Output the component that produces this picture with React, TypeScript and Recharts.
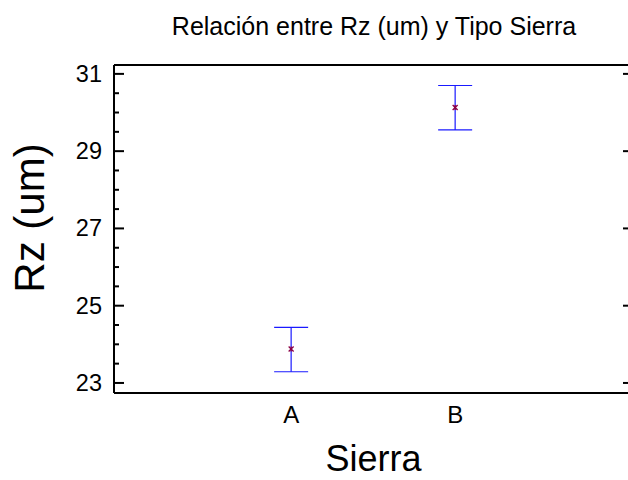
import {
  ComposedChart,
  Scatter,
  ErrorBar,
  XAxis,
  YAxis,
} from 'recharts'

// Rz (um) by saw type: means with lower / upper interval limits
const categories = ['A', 'B']
const catPos = [1, 2]
const means = [23.88, 30.13]
const lows = [23.29, 29.55]
const highs = [24.44, 30.7]

const yTicks = [23, 23.5, 24, 24.5, 25, 25.5, 26, 26.5, 27, 27.5, 28, 28.5, 29, 29.5, 30, 30.5, 31]
const yMajor = [23, 25, 27, 29, 31]
const yDomain = [22.74, 31.23]
const xDomain = [-0.08, 3.06]

const FONT = '"Liberation Sans", Arial, sans-serif'

const data = categories.map((c, i) => ({
  x: catPos[i],
  y: means[i],
  err: [means[i] - lows[i], highs[i] - means[i]],
}))

const LeftTick = (props: any) => {
  const { x, y, payload } = props
  const v = payload.value as number
  const major = yMajor.includes(v)
  return (
    <g>
      <line x1={x + 12} x2={x + 12 + (major ? 10 : 5)} y1={y} y2={y} stroke="#000" strokeWidth={2} />
      {major && (
        <text x={x} y={y} dy={8} textAnchor="end" fontSize={23.5} fontFamily={FONT} fill="#000">
          {v}
        </text>
      )}
    </g>
  )
}

const RightTick = (props: any) => {
  const { x, y } = props
  return <line x1={x - 6} x2={x} y1={y} y2={y} stroke="#000" strokeWidth={2} />
}

const BottomTick = (props: any) => {
  const { x, y, payload } = props
  const idx = catPos.indexOf(payload.value)
  return (
    <text x={x} y={y} dy={30} textAnchor="middle" fontSize={24} fontFamily={FONT} fill="#000">
      {categories[idx]}
    </text>
  )
}

const StarMark = (props: any) => {
  const { cx, cy } = props
  const r = 2.5
  return (
    <g stroke="#8b0045" strokeWidth={1.3}>
      <line x1={cx - r} x2={cx + r} y1={cy - r} y2={cy + r} />
      <line x1={cx - r} x2={cx + r} y1={cy + r} y2={cy - r} />
      <line x1={cx} x2={cx} y1={cy - r} y2={cy + r} />
    </g>
  )
}

export default function App() {
  return (
    <div style={{ position: 'absolute', left: 0, top: 0, width: 628, height: 480, overflow: 'hidden', background: '#fff' }}>
      <ComposedChart width={640} height={480} margin={{ top: 64, right: 10, bottom: 0, left: 0 }}>
        <XAxis
          xAxisId="top"
          orientation="top"
          type="number"
          domain={[0, 1]}
          ticks={[]}
          height={1}
          tick={false}
          tickLine={false}
          axisLine={{ stroke: '#000', strokeWidth: 2 }}
          label={{
            content: () => (
              <text x={374} y={35} textAnchor="middle" fontSize={25} fontFamily={FONT} fill="#000">
                Relación entre Rz (um) y Tipo Sierra
              </text>
            ),
          }}
        />
        <XAxis
          dataKey="x"
          type="number"
          domain={xDomain}
          ticks={catPos}
          height={87}
          tickSize={0}
          tickMargin={0}
          tickLine={false}
          tick={<BottomTick />}
          axisLine={{ stroke: '#000', strokeWidth: 2 }}
          allowDataOverflow
          label={{
            content: (p: any) => (
              <text
                x={p.viewBox.x + p.viewBox.width / 2 + 2}
                y={471}
                textAnchor="middle"
                fontSize={36}
                fontFamily={FONT}
                fill="#000"
              >
                Sierra
              </text>
            ),
          }}
        />
        <YAxis
          dataKey="y"
          type="number"
          domain={yDomain}
          ticks={yTicks}
          interval={0}
          width={114}
          tickSize={0}
          tickMargin={12}
          tickLine={false}
          tick={<LeftTick />}
          axisLine={{ stroke: '#000', strokeWidth: 2 }}
          allowDataOverflow
          label={{
            content: () => (
              <text
                x={44}
                y={218}
                transform="rotate(-90, 44, 218)"
                textAnchor="middle"
                fontSize={42}
                fontFamily={FONT}
                fill="#000"
              >
                Rz (um)
              </text>
            ),
          }}
        />
        <YAxis
          yAxisId="right"
          orientation="right"
          type="number"
          domain={yDomain}
          ticks={yMajor}
          interval={0}
          width={1}
          tickSize={0}
          tickMargin={0}
          tickLine={false}
          tick={<RightTick />}
          axisLine={{ stroke: '#000', strokeWidth: 2 }}
          allowDataOverflow
        />
        <Scatter data={data} shape={<StarMark />} isAnimationActive={false}>
          <ErrorBar dataKey="err" direction="y" width={17} stroke="#1a1aff" strokeWidth={1.2} isAnimationActive={false} />
        </Scatter>
      </ComposedChart>
    </div>
  )
}
